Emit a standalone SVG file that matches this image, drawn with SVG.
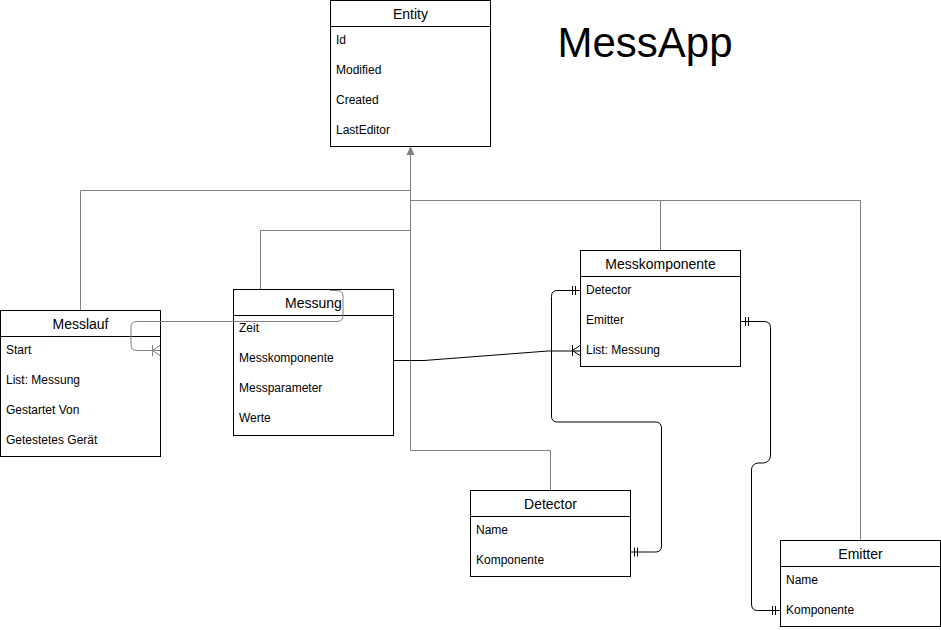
<svg xmlns="http://www.w3.org/2000/svg" width="941" height="630" viewBox="0 0 941 630">
<style>
.box{fill:#fff;stroke:#000;stroke-width:1}
.t{font-family:"Liberation Sans",Arial,sans-serif;font-size:14px;fill:#000;text-anchor:middle;dominant-baseline:central}
.i{font-family:"Liberation Sans",Arial,sans-serif;font-size:12px;fill:#000;dominant-baseline:central}
.inh{fill:none;stroke:#808080;stroke-width:1}
.rel{fill:none;stroke:#000;stroke-width:1}
.relg{fill:none;stroke:#808080;stroke-width:1}
</style>
<rect width="941" height="630" fill="#fff"/>
<g id="Entity">
<rect class="box" x="330.5" y="0.5" width="160" height="146"/>
<line class="box" x1="330.5" y1="26.5" x2="490.5" y2="26.5"/>
<text class="t" x="410.5" y="13.5">Entity</text>
<text class="i" x="336" y="40">Id</text>
<text class="i" x="336" y="70">Modified</text>
<text class="i" x="336" y="100">Created</text>
<text class="i" x="336" y="130">LastEditor</text>
</g>
<g id="Messlauf">
<rect class="box" x="0.5" y="310.5" width="160" height="146"/>
<line class="box" x1="0.5" y1="336.5" x2="160.5" y2="336.5"/>
<text class="t" x="80.5" y="323.5">Messlauf</text>
<text class="i" x="6" y="350">Start</text>
<text class="i" x="6" y="380">List: Messung</text>
<text class="i" x="6" y="410">Gestartet Von</text>
<text class="i" x="6" y="440">Getestetes Gerät</text>
</g>
<g id="Messung">
<rect class="box" x="233.5" y="289.5" width="160" height="146"/>
<line class="box" x1="233.5" y1="315.5" x2="393.5" y2="315.5"/>
<text class="t" x="313.5" y="302.5">Messung</text>
<text class="i" x="239" y="328">Zeit</text>
<text class="i" x="239" y="358">Messkomponente</text>
<text class="i" x="239" y="388">Messparameter</text>
<text class="i" x="239" y="418">Werte</text>
</g>
<g id="Messkomponente">
<rect class="box" x="580.5" y="250.5" width="160" height="116"/>
<line class="box" x1="580.5" y1="276.5" x2="740.5" y2="276.5"/>
<text class="t" x="660.5" y="263.5">Messkomponente</text>
<text class="i" x="586" y="290">Detector</text>
<text class="i" x="586" y="320">Emitter</text>
<text class="i" x="586" y="350">List: Messung</text>
</g>
<g id="Detector">
<rect class="box" x="470.5" y="490.5" width="160" height="86"/>
<line class="box" x1="470.5" y1="516.5" x2="630.5" y2="516.5"/>
<text class="t" x="550.5" y="503.5">Detector</text>
<text class="i" x="476" y="530">Name</text>
<text class="i" x="476" y="560">Komponente</text>
</g>
<g id="Emitter">
<rect class="box" x="780.5" y="540.5" width="160" height="86"/>
<line class="box" x1="780.5" y1="566.5" x2="940.5" y2="566.5"/>
<text class="t" x="860.5" y="553.5">Emitter</text>
<text class="i" x="786" y="580">Name</text>
<text class="i" x="786" y="610">Komponente</text>
</g>
<g id="connectors">
<path class="inh" d="M80.5 310 V190.5 H410.5"/>
<path class="inh" d="M260.5 289 V230.5 H410.5"/>
<path class="inh" d="M550.5 490 V450.5 H410.5"/>
<path class="inh" d="M660.5 250 V200.5 H410.5"/>
<path class="inh" d="M860.5 540 V200.5 H660.5"/>
<path class="inh" d="M410.5 450 V152"/>
<polygon points="410.5,146 406.5,155 414.5,155" fill="#808080"/>
<path class="relg" d="M160 350.5 H137 Q131 350.5 131 344.5 V327 Q131 321.5 137 321.5 H337 Q343 321.5 343 315.5 V296 Q343 290.5 337 290.5 H330"/>
<path class="relg" d="M152.5 345 V356 M152.5 350.5 L160 345.5 M152.5 350.5 L160 355.5"/>
<path class="rel" d="M393 360.5 H424 L548 351 H580"/>
<path class="rel" d="M572.5 345 V356 M572.5 350.5 L580 345.5 M572.5 350.5 L580 355.5"/>
<path class="rel" d="M580 290.5 H557 Q551.5 290.5 551.5 296.5 V416 Q551.5 422 557.5 422 H655 Q661.5 422 661.5 428 V546 Q661.5 552 655.5 552 H630"/>
<path class="rel" d="M572.5 286 V295 M575.5 286 V295 M634.5 547.5 V556.5 M637.5 547.5 V556.5"/>
<path class="rel" d="M740 321.5 H764 Q770.5 321.5 770.5 327.5 V455 Q770.5 462 763.5 463 H758 Q751.5 464 751.5 470 V604 Q751.5 610.5 757.5 610.5 H780"/>
<path class="rel" d="M745.5 317 V326 M748.5 317 V326 M772.5 606 V615 M775.5 606 V615"/>
</g>
<text x="645" y="42" font-family="'Liberation Sans',Arial,sans-serif" font-size="42" text-anchor="middle" dominant-baseline="central" fill="#000">MessApp</text>
</svg>
